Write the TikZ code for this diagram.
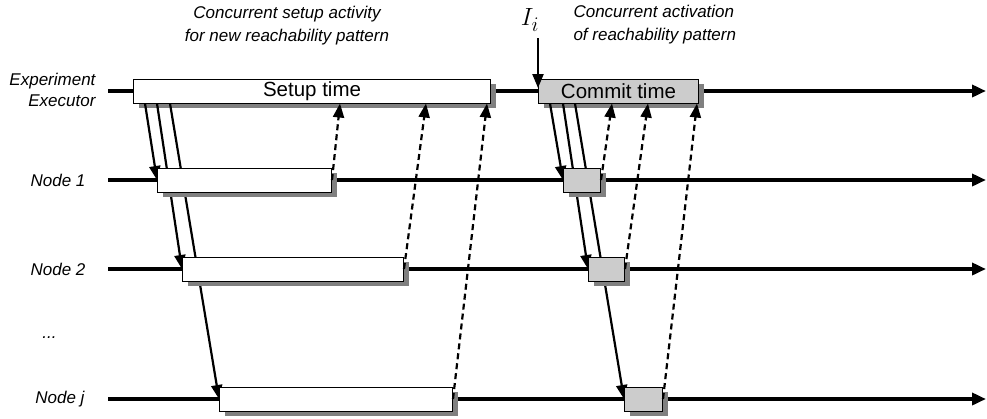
\documentclass[tikz,border=0pt]{standalone}
\usepackage{fontspec}
\newfontfamily\labelfont{Liberation Sans}
\usetikzlibrary{arrows.meta, calc, shadows, positioning}

\tikzset{
  lane/.style={line width=3.6pt, -{Triangle[length=14pt,width=12pt]}},
  lanelabel/.style={font=\labelfont\itshape\fontsize{17}{21}\selectfont, align=right, anchor=east},
  note/.style={font=\labelfont\itshape\fontsize{17}{23}\selectfont},
  phase/.style={draw, line width=1pt, fill=white, inner sep=0pt, minimum height=24pt, anchor=west,
    font=\labelfont\fontsize{20.5}{24}\selectfont,
    drop shadow={shadow xshift=5pt, shadow yshift=-5pt, fill=black!50, opacity=1}},
  commitphase/.style={phase, fill=black!20},
  send/.style={line width=2.2pt, -{Triangle[length=14pt,width=11pt]}},
  reply/.style={send, dash pattern=on 6pt off 4pt},
}

\begin{document}
\begin{tikzpicture}[x=1pt, y=-1pt]
        \useasboundingbox (0,0) rectangle (987,418);

        % lane labels
        \node[lanelabel] (lExec)  at (99,90)  {Experiment\\Executor};
        \node[lanelabel] (lNode1) at (89,180) {Node 1};
        \node[lanelabel] (lNode2) at (89,269) {Node 2};
        \node[lanelabel] (lDots)  at (60,338) {...};
        \node[lanelabel] (lNodej) at (88,399) {Node j};

        % lane ends
        \coordinate (sExec)  at (108,91);
        \coordinate (eExec)  at (986,91);
        \coordinate (sNode1) at (108,180);
        \coordinate (eNode1) at (986,180);
        \coordinate (sNode2) at (108,269);
        \coordinate (eNode2) at (986,269);
        \coordinate (sNodej) at (108,399);
        \coordinate (eNodej) at (986,399);

        \draw[lane] (sExec) -- (eExec);
        \draw[lane] (sNode1) -- (eNode1);
        \draw[lane] (sNode2) -- (eNode2);
        \draw[lane] (sNodej) -- (eNodej);

        % headings
        \node[note, align=center] (setupNote) at (287,26) {Concurrent setup activity\\for new reachability pattern};
        \node[note, align=left, anchor=west] (commitNote) at (570,25) {Concurrent activation\\of reachability pattern};
        \node[font=\fontsize{30}{32}\selectfont] (iMark) at (530,20) {$I_i$};
        \coordinate (iTop) at (538,38);

        % executor phases
        \node[phase, minimum width=357pt] (setup) at (133,91) {Setup time};
        \node[commitphase, minimum width=160pt] (commit) at (538,91) {Commit time};

        % requests to the nodes
        \draw[send] ($(setup.south west)+(12,0)$) -- (157,180);
        \draw[send] ($(setup.south west)+(24,0)$) -- (182,269);
        \draw[send] ($(setup.south west)+(37,0)$) -- (219,399);
        \draw[send] ($(commit.south west)+(12,0)$) -- (563,180);
        \draw[send] ($(commit.south west)+(25,0)$) -- (588,269);
        \draw[send] ($(commit.south west)+(37,0)$) -- (624,399);

        % node phases
        \node[phase, minimum width=174pt] (prep1) at (157,180) {};
        \node[phase, minimum width=221pt] (prep2) at (182,269) {};
        \node[phase, minimum width=233pt] (prepj) at (219,399) {};
        \node[commitphase, minimum width=37pt] (act1) at (563,180) {};
        \node[commitphase, minimum width=36pt] (act2) at (588,269) {};
        \node[commitphase, minimum width=38pt] (actj) at (624,399) {};

        % replies
        \draw[reply] (prep1.east) -- ($(setup.south west)+(207,0)$);
        \draw[reply] (prep2.east) -- ($(setup.south west)+(293,0)$);
        \draw[reply] (prepj.east) -- ($(setup.south west)+(354,0)$);
        \draw[reply] (act1.east) -- ($(commit.south west)+(74,0)$);
        \draw[reply] (act2.east) -- ($(commit.south west)+(110,0)$);
        \draw[reply] (actj.east) -- ($(commit.south west)+(159,0)$);

        \draw[send] (iTop) -- ($(commit.west)+(0,-3)$);
    \end{tikzpicture}
\end{document}
